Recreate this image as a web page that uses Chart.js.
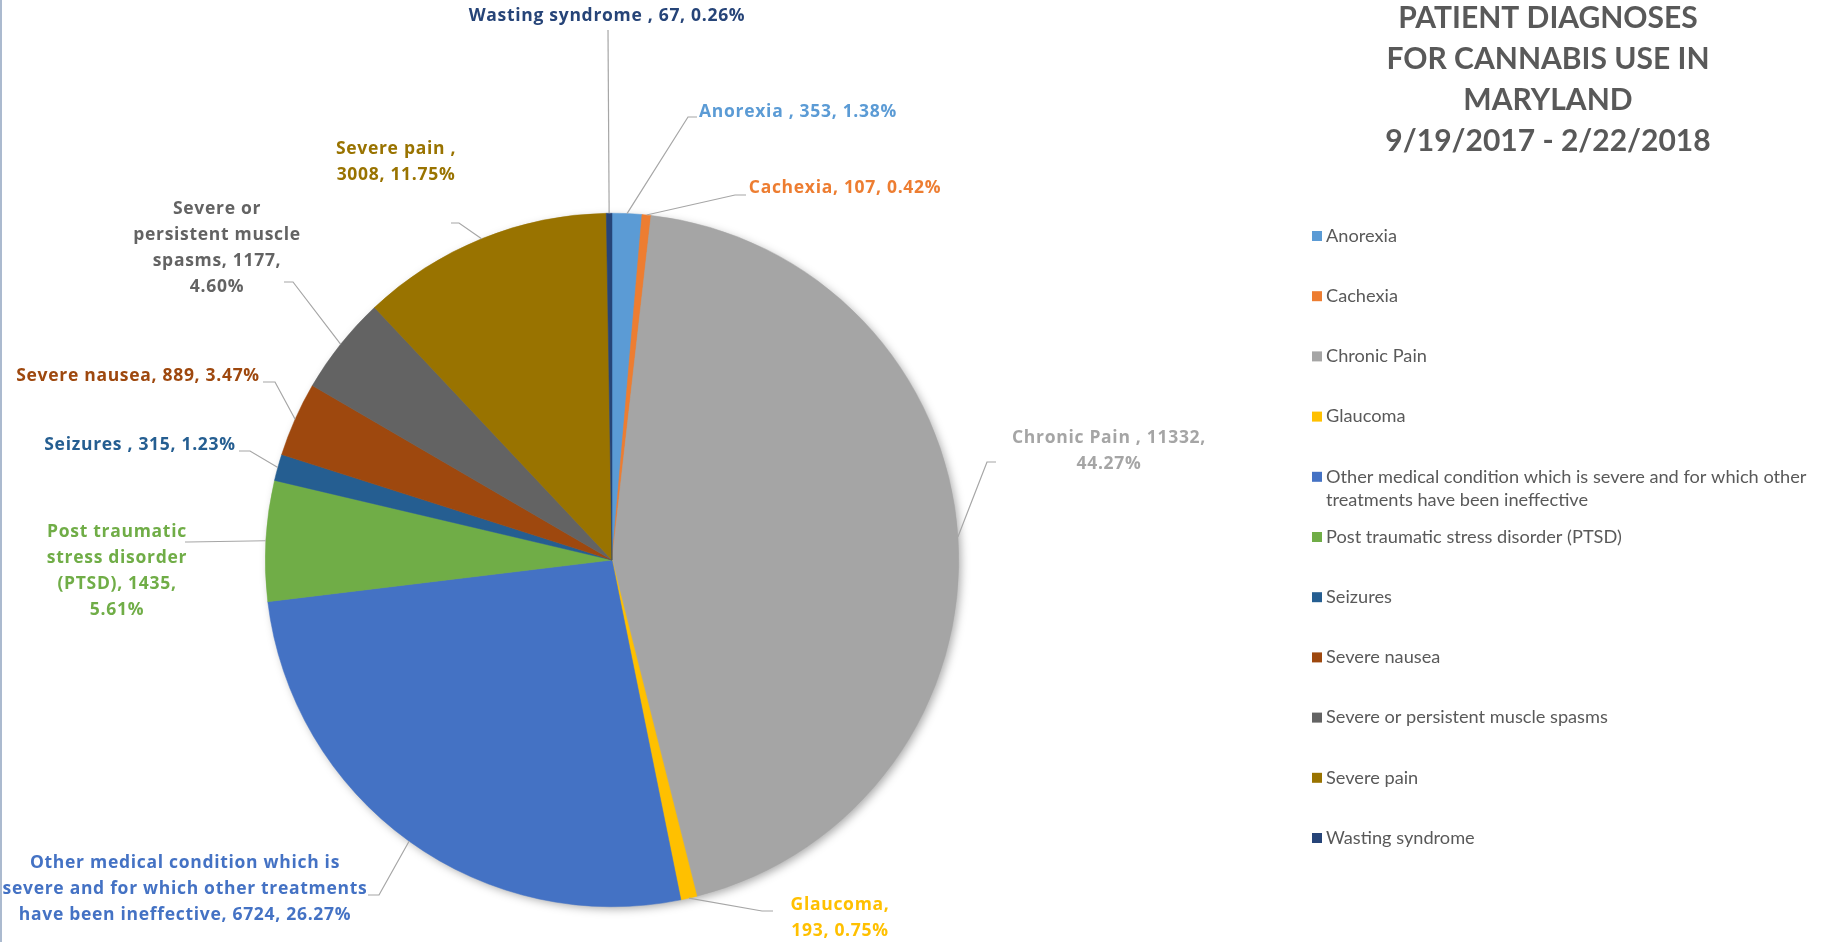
<!DOCTYPE html>
<html>
<head>
<meta charset="utf-8">
<script src="https://cdn.jsdelivr.net/npm/chart.js@4.4.1/dist/chart.umd.min.js"></script>
<style>
html, body { margin: 0; padding: 0; background: #fff; }
#wrap { position: relative; width: 1835px; height: 942px; }
</style>
</head>
<body>
<div id="wrap"><canvas id="pieChart"></canvas></div>
<script>
// data
const categories = [
    "Anorexia ",
    "Cachexia",
    "Chronic Pain ",
    "Glaucoma",
    "Other medical condition which is severe and for which other treatments have been ineffective",
    "Post traumatic stress disorder (PTSD)",
    "Seizures ",
    "Severe nausea",
    "Severe or persistent muscle spasms",
    "Severe pain ",
    "Wasting syndrome "
];
const patientCounts = [353, 107, 11332, 193, 6724, 1435, 315, 889, 1177, 3008, 67];
const sliceColors = ["#5B9BD5", "#ED7D31", "#A5A5A5", "#FFC000", "#4472C4", "#70AD47",
                     "#255E91", "#9E480E", "#636363", "#997300", "#264478"];
const titleLines = ["PATIENT DIAGNOSES", "FOR CANNABIS USE IN", "MARYLAND", "9/19/2017 - 2/22/2018"];

const total = patientCounts.reduce((a, b) => a + b, 0);

// where each data label sits: text centre x, first line y, words per line,
// and the leader line (stub start s, elbow e) before it runs to the slice
const labelLayout = [
    { x: 798, y: 112, words: [99], s: [697, 117], e: [688, 117] },
    { x: 845, y: 188, words: [99], s: [746, 195], e: [735, 195] },
    { x: 1109, y: 438, words: [4, 1], s: [996, 462], e: [987, 462] },
    { x: 840, y: 905, words: [1, 2], s: [773, 911], e: [762, 911] },
    { x: 185, y: 863, words: [5, 6, 5], s: [368, 895], e: [379, 895] },
    { x: 117, y: 532, words: [2, 2, 2, 1], s: [185, 542], e: [188, 542] },
    { x: 140, y: 445, words: [99], s: [239, 451], e: [250, 451] },
    { x: 138, y: 376, words: [99], s: [263, 382], e: [275, 382] },
    { x: 217, y: 209, words: [2, 2, 2, 1], s: [284, 282], e: [293, 282] },
    { x: 396, y: 149, words: [3, 2], s: [451, 223], e: [459, 223] },
    { x: 607, y: 16, words: [99], s: [608, 30], e: [608, 30] }
];

function labelText(i) {
    const pct = (patientCounts[i] / total * 100).toFixed(2) + "%";
    return categories[i] + ", " + patientCounts[i] + ", " + pct;
}

function splitLines(text, words) {
    const tokens = text.split(/\s+/).filter(t => t.length);
    const lines = [];
    let k = 0;
    for (const n of words) {
        if (k >= tokens.length) break;
        lines.push(tokens.slice(k, k + n).join(" "));
        k += n;
    }
    return lines;
}

// soft shadow behind the pie
const pieShadow = {
    id: "pieShadow",
    beforeDatasetsDraw(chart) {
        const arc = chart.getDatasetMeta(0).data[0];
        if (!arc) return;
        const { x, y, outerRadius } = arc.getProps(["x", "y", "outerRadius"], true);
        const c = chart.ctx;
        c.save();
        c.shadowColor = "rgba(0,0,0,0.35)";
        c.shadowBlur = 10;
        c.shadowOffsetX = 3;
        c.shadowOffsetY = 3;
        c.fillStyle = "#A5A5A5";
        c.beginPath();
        c.arc(x, y, outerRadius - 1, 0, Math.PI * 2);
        c.fill();
        c.restore();
    }
};

// labels, leader lines, title and legend
const decorations = {
    id: "decorations",
    afterDatasetsDraw(chart) {
        const c = chart.ctx;
        const meta = chart.getDatasetMeta(0);
        c.save();

        // left border line
        c.strokeStyle = "#8FA3BF";
        c.lineWidth = 1.5;
        c.beginPath();
        c.moveTo(1, 0);
        c.lineTo(1, 942);
        c.stroke();

        // data labels + leader lines
        meta.data.forEach((arc, i) => {
            const p = arc.getProps(["x", "y", "startAngle", "endAngle", "outerRadius"], true);
            const mid = (p.startAngle + p.endAngle) / 2;
            const ex = p.x + Math.cos(mid) * p.outerRadius;
            const ey = p.y + Math.sin(mid) * p.outerRadius;
            const L = labelLayout[i];

            c.strokeStyle = "#A6A6A6";
            c.lineWidth = 1.2;
            c.beginPath();
            c.moveTo(L.s[0], L.s[1]);
            c.lineTo(L.e[0], L.e[1]);
            c.lineTo(ex, ey);
            c.stroke();

            c.fillStyle = sliceColors[i];
            c.font = "bold 17.5px 'Open Sans'";
            c.letterSpacing = "0.7px";
            c.textAlign = "center";
            c.textBaseline = "middle";
            splitLines(labelText(i), L.words).forEach((line, j) => {
                c.fillText(line, L.x, L.y + j * 26);
            });
        });
        c.letterSpacing = "0px";

        // title
        c.fillStyle = "#595959";
        c.font = "bold 30px Lato";
        c.textAlign = "center";
        c.textBaseline = "middle";
        titleLines.forEach((t, j) => c.fillText(t, 1548, 18 + j * 41));

        // legend
        c.font = "18.2px Lato";
        c.textAlign = "left";
        const maxW = 495;
        categories.forEach((name, i) => {
            const y = 236 + i * 60.2;
            c.fillStyle = sliceColors[i];
            c.fillRect(1312, y - 5, 10, 10);
            c.fillStyle = "#595959";
            const words = name.trim().split(" ");
            let line = "", row = 0;
            words.forEach(w => {
                const test = line ? line + " " + w : w;
                if (c.measureText(test).width > maxW && line) {
                    c.fillText(line, 1326, y + row * 23);
                    line = w;
                    row++;
                } else {
                    line = test;
                }
            });
            c.fillText(line, 1326, y + row * 23);
        });

        c.restore();
    }
};

const ctx = document.getElementById("pieChart").getContext("2d");
const pieChart = new Chart(ctx, {
    type: "pie",
    data: {
        labels: categories,
        datasets: [{
            data: patientCounts,
            backgroundColor: sliceColors,
            borderColor: sliceColors,
            borderWidth: 0.5
        }]
    },
    options: {
        responsive: true,
        maintainAspectRatio: false,
        animation: false,
        layout: { padding: { left: 265, right: 876, top: 213, bottom: 35 } },
        plugins: {
            legend: { display: false },
            tooltip: { enabled: false }
        }
    },
    plugins: [pieShadow, decorations]
});
</script>
</body>
</html>
